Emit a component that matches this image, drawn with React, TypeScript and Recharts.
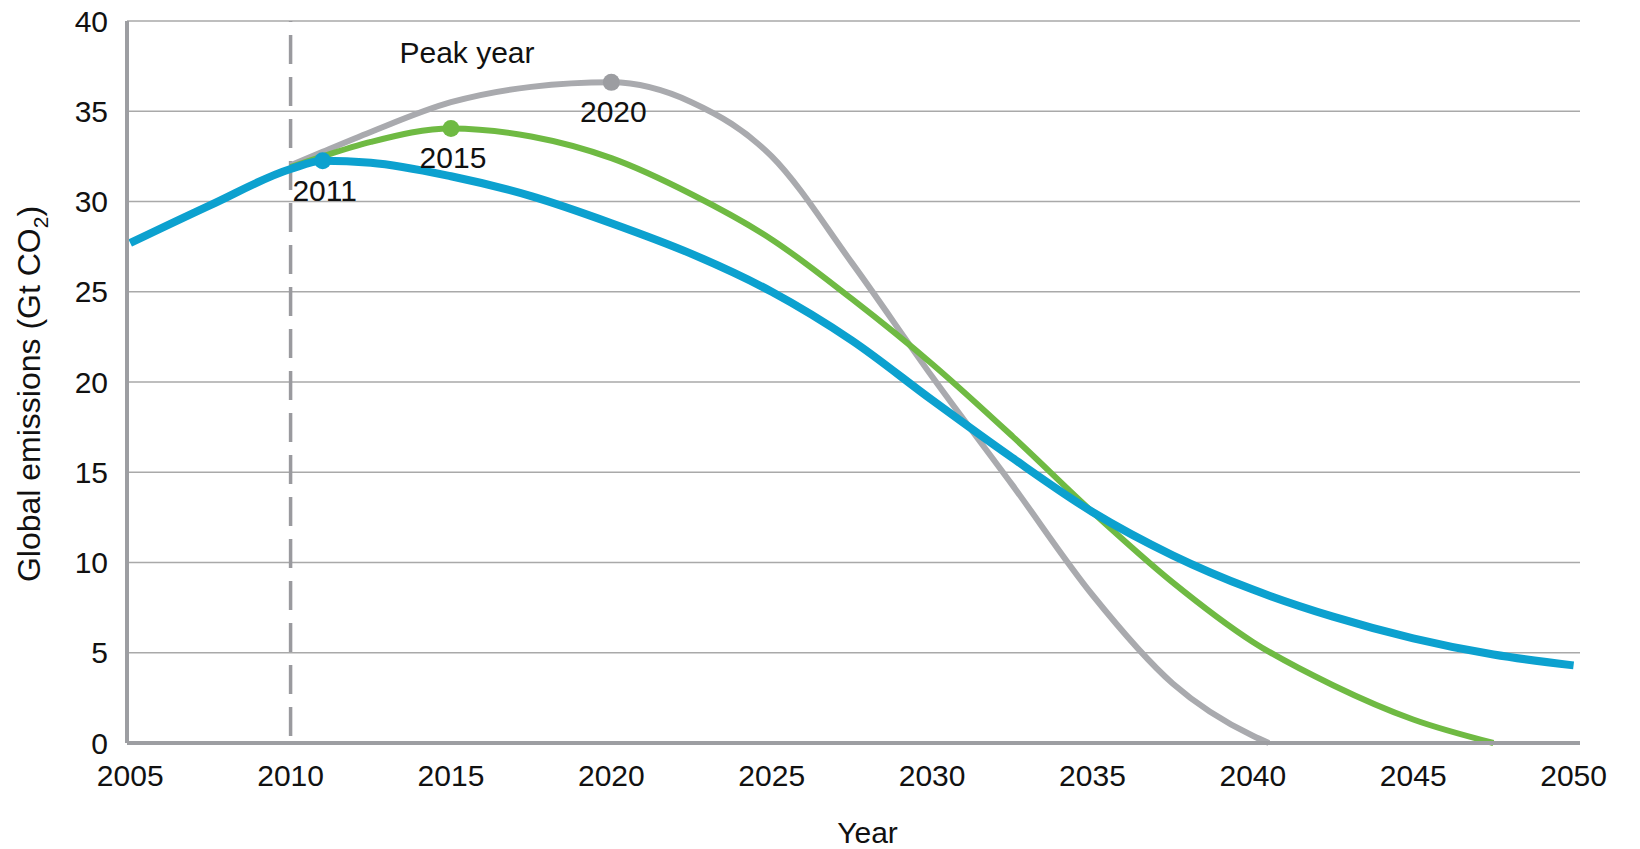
import React from "react";
import {
  LineChart,
  Line,
  XAxis,
  YAxis,
  CartesianGrid,
  ReferenceLine,
  ReferenceDot,
} from "recharts";

// sample years
const years = [
  2005, 2007.5, 2010, 2011, 2012.5, 2015, 2017.5, 2020, 2022.5, 2025, 2027.5,
  2030, 2032.5, 2035, 2037.5, 2040, 2040.5, 2042.5, 2045, 2047.5, 2050,
];

// emissions (Gt CO2) by peak year scenario
const peak2011 = [
  27.7, 29.8, 31.8, 32.26, 32.15, 31.4, 30.3, 28.8, 27.1, 25.0, 22.3, 19.0,
  15.8, 12.8, 10.4, 8.5, null, 7.0, 5.8, 4.9, 4.3,
];
const peak2015 = [
  null, null, 31.9, 32.5, 33.3, 34.05, 33.6, 32.4, 30.4, 27.9, 24.6, 21.0,
  17.0, 12.8, 8.9, 5.6, null, 3.2, 1.3, 0, null,
];
const peak2020 = [
  null, null, 32.0, 32.75, 33.85, 35.5, 36.35, 36.6, 35.5, 32.5, 26.6, 20.3,
  14.3, 8.2, 3.3, 0.4, 0, null, null, null, null,
];

const peakYears = [2011, 2015, 2020];
const peakValues = [32.26, 34.05, 36.6];
const peakLabels = ["2011", "2015", "2020"];

const xTicks = [2005, 2010, 2015, 2020, 2025, 2030, 2035, 2040, 2045, 2050];
const yTicks = [0, 5, 10, 15, 20, 25, 30, 35, 40];

const data = years.map((year, i) => ({
  year,
  p2011: peak2011[i],
  p2015: peak2015[i],
  p2020: peak2020[i],
}));

const BLUE = "#0ca1cf";
const GREEN = "#6fba43";
const GREY = "#a9aaae";
const DOT_COLORS = [BLUE, GREEN, "#9c9da1"];
const AXIS = "#9d9ea2";
const FONT = "Arial, 'Liberation Sans', sans-serif";

const tickStyle = { fontSize: 30, fill: "#111", fontFamily: FONT };

function YLabel({ viewBox }: any) {
  const cx = 29;
  const cy = viewBox.y + viewBox.height / 2 + 12;
  return (
    <text
      x={cx}
      y={cy}
      transform={`rotate(-90 ${cx} ${cy})`}
      textAnchor="middle"
      dominantBaseline="central"
      fontSize={32}
      fontFamily={FONT}
      fill="#111"
    >
      Global emissions (Gt CO
      <tspan baselineShift="sub" fontSize={21}>
        2
      </tspan>
      )
    </text>
  );
}

function XLabel({ viewBox }: any) {
  return (
    <text
      x={viewBox.x + viewBox.width / 2 + 14}
      y={viewBox.y + 100}
      textAnchor="middle"
      fontSize={30}
      fontFamily={FONT}
      fill="#111"
    >
      Year
    </text>
  );
}

function PeakLabel({ viewBox, value }: any) {
  const cx = viewBox.x + viewBox.width / 2;
  const cy = viewBox.y + viewBox.height / 2;
  return (
    <text
      x={cx + 2}
      y={cy + 40}
      textAnchor="middle"
      fontSize={30}
      fontFamily={FONT}
      fill="#111"
    >
      {value}
    </text>
  );
}

function TitleLabel({ viewBox }: any) {
  const cx = viewBox.x + viewBox.width / 2;
  const cy = viewBox.y + viewBox.height / 2;
  return (
    <text
      x={cx}
      y={cy}
      textAnchor="middle"
      fontSize={30}
      fontFamily={FONT}
      fill="#111"
    >
      Peak year
    </text>
  );
}

export default function App() {
  return (
    <div style={{ position: "absolute", left: 0, top: 0, background: "#fff" }}>
      <LineChart
        width={1640}
        height={849}
        data={data}
        margin={{ top: 21, right: 60, bottom: 0, left: 0 }}
      >
        <CartesianGrid
          vertical={false}
          stroke="#a9a9a9"
          strokeWidth={1.5}
        />
        <XAxis
          dataKey="year"
          type="number"
          domain={[2004.9, 2050.2]}
          ticks={xTicks}
          height={106}
          tickLine={false}
          tickSize={0}
          tickMargin={22}
          axisLine={{ stroke: AXIS, strokeWidth: 4 }}
          tick={tickStyle}
          label={<XLabel />}
        />
        <YAxis
          type="number"
          domain={[0, 40]}
          ticks={yTicks}
          width={127}
          tickLine={false}
          tickSize={0}
          tickMargin={19}
          axisLine={{ stroke: AXIS, strokeWidth: 4 }}
          tick={tickStyle}
          label={<YLabel />}
        />
        <ReferenceLine
          x={2010}
          stroke="#9a9a9e"
          strokeWidth={3.5}
          strokeDasharray="29 13"
          strokeDashoffset={35}
        />
        <Line
          type="monotone"
          dataKey="p2020"
          stroke={GREY}
          strokeWidth={6}
          dot={false}
          activeDot={false}
          connectNulls
          isAnimationActive={false}
        />
        <Line
          type="monotone"
          dataKey="p2015"
          stroke={GREEN}
          strokeWidth={6}
          dot={false}
          activeDot={false}
          connectNulls
          isAnimationActive={false}
        />
        <Line
          type="monotone"
          dataKey="p2011"
          stroke={BLUE}
          strokeWidth={8}
          dot={false}
          activeDot={false}
          connectNulls
          isAnimationActive={false}
        />
        {peakYears.map((yr, i) => (
          <ReferenceDot
            key={yr}
            x={yr}
            y={peakValues[i]}
            r={8.5}
            fill={DOT_COLORS[i]}
            stroke="none"
            label={<PeakLabel value={peakLabels[i]} />}
          />
        ))}
        <ReferenceDot
          x={2015.5}
          y={37.7}
          r={0}
          fill="none"
          stroke="none"
          label={<TitleLabel />}
        />
      </LineChart>
    </div>
  );
}
